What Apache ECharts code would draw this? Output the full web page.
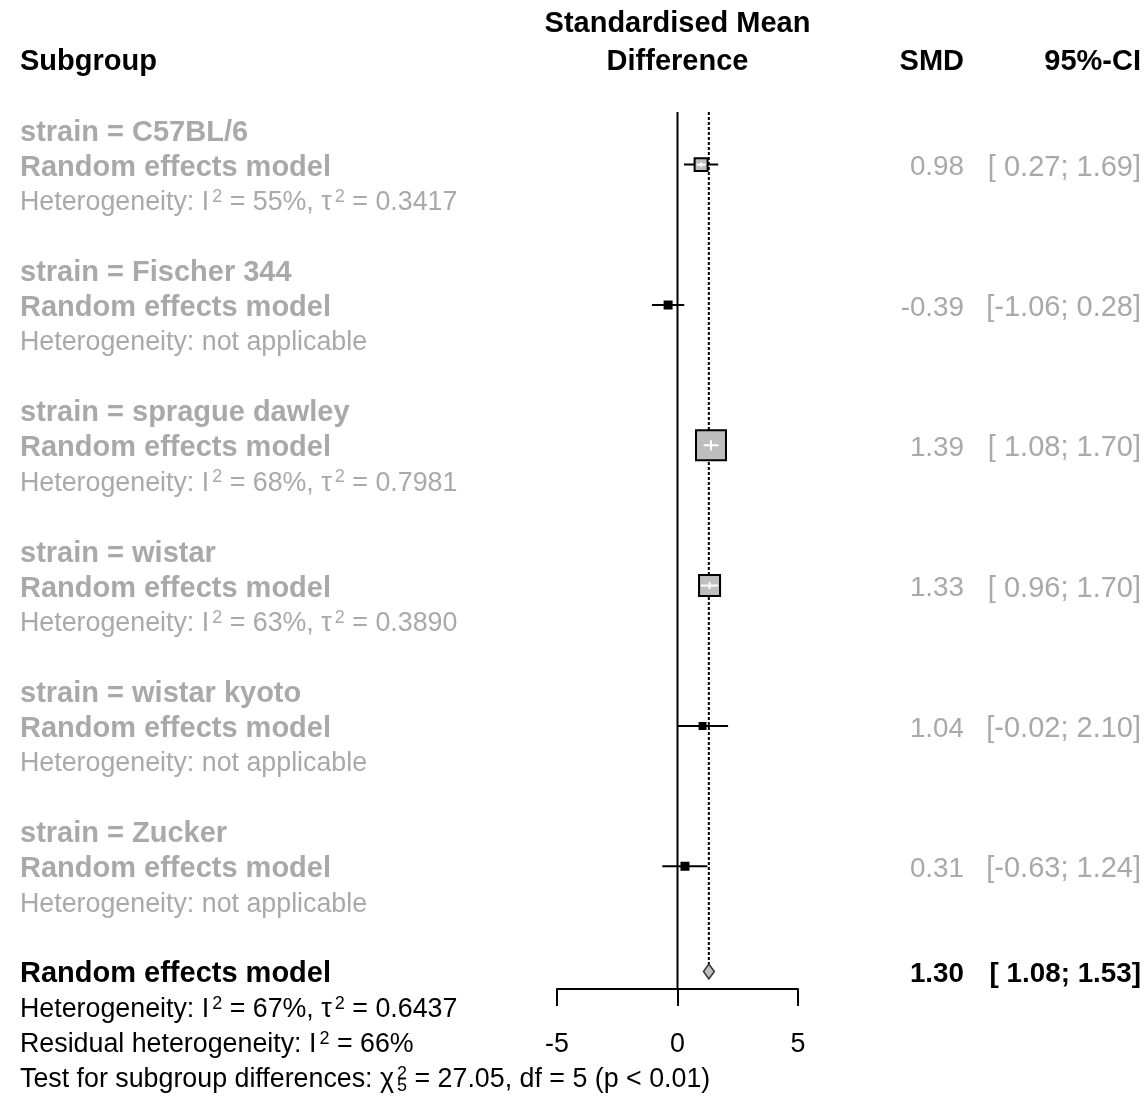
<!DOCTYPE html>
<html>
<head>
<meta charset="utf-8">
<script src="https://cdn.jsdelivr.net/npm/echarts@6/dist/echarts.min.js"></script>
<style>
html,body{margin:0;padding:0;background:#fff;}
#chart{width:1146px;height:1096px;}
</style>
</head>
<body>
<div id="chart"></div>
<script>
// ---------- data ----------
const subgroupNames  = ['C57BL/6', 'Fischer 344', 'sprague dawley', 'wistar', 'wistar kyoto', 'Zucker'];
const subgroupSMD    = [0.98, -0.39, 1.39, 1.33, 1.04, 0.31];
const subgroupLower  = [0.27, -1.06, 1.08, 0.96, -0.02, -0.63];
const subgroupUpper  = [1.69, 0.28, 1.70, 1.70, 2.10, 1.24];
const subgroupI2     = [55, null, 68, 63, null, null];
const subgroupTau2   = ['0.3417', null, '0.7981', '0.3890', null, null];
// relative weights (estimated from square sizes)
const subgroupWeight = [10.3, 3.0, 55.0, 27.0, 2.2, 3.0];

const overallSMD   = 1.30;
const overallLower = 1.08;
const overallUpper = 1.53;
const overallI2    = 67;
const overallTau2  = '0.6437';
const residualI2   = 66;
const chi2Value    = '27.05';
const chi2Df       = 5;
const pValueText   = '< 0.01';

const xTicks = [-5, 0, 5];

// ---------- styling / layout constants ----------
const FONT = "'Liberation Sans', Arial, Helvetica, sans-serif";
const GREY = '#A9A9A9';
const BLACK = '#000000';
const BOLD_SIZE = 29;
const REG_SIZE = 26.8;
const NUM_SIZE = 27.8;
const CI_SIZE = 29;
const SUP_SIZE = 18;
const MAX_BOX = 30;
const LEFT_X = 20;
const SMD_X = 964;
const CI_X = 1141;
const TEXT_DY = 3;
const ROWS_PER_GROUP = 4;
const OVERALL_ROW = subgroupNames.length * ROWS_PER_GROUP - 1;

const maxWeight = Math.max(...subgroupWeight);
const f2 = v => v.toFixed(2);
const ciText = (lo, hi) => '[' + f2(lo).padStart(5, ' ') + '; ' + f2(hi).padStart(4, ' ') + ']';

function richStyles(color, size) {
  return {
    a: {fill: color, fontSize: size, fontFamily: FONT, lineHeight: 30},
    s: {fill: color, fontSize: SUP_SIZE, fontFamily: FONT, lineHeight: 18, verticalAlign: 'top', padding: [0, 0, 0, 3]},
    b: {fill: color, fontSize: SUP_SIZE, fontFamily: FONT, lineHeight: 16, verticalAlign: 'bottom', padding: [0, 0, 0, 3]},
    t: {fill: 'rgba(0,0,0,0)', fontSize: size, fontFamily: FONT, lineHeight: 30}
  };
}
function hetText(i2, tau2) {
  return '{a|Heterogeneity: I}{s|2}{a| = ' + i2 + '%, τ}{s|2}{a| = ' + tau2 + '}';
}

// ---------- text rows ----------
const textRows = [];
function addText(row, x, align, text, opts) {
  textRows.push(Object.assign({row, x, align, text}, opts));
}
// headers
addText(-4.1, 'axis', 'center', 'Standardised Mean', {bold: true, color: BLACK, size: BOLD_SIZE});
addText(-3, 'axis', 'center', 'Difference', {bold: true, color: BLACK, size: BOLD_SIZE});
addText(-3, LEFT_X, 'left', 'Subgroup', {bold: true, color: BLACK, size: BOLD_SIZE});
addText(-3, SMD_X, 'right', 'SMD', {bold: true, color: BLACK, size: BOLD_SIZE});
addText(-3, CI_X, 'right', '95%-CI', {bold: true, color: BLACK, size: BOLD_SIZE});

subgroupNames.forEach((name, i) => {
  const r = i * ROWS_PER_GROUP;
  addText(r - 1, LEFT_X, 'left', 'strain = ' + name, {bold: true, color: GREY, size: BOLD_SIZE});
  addText(r, LEFT_X, 'left', 'Random effects model', {bold: true, color: GREY, size: BOLD_SIZE});
  if (subgroupI2[i] !== null) {
    addText(r + 1, LEFT_X, 'left', hetText(subgroupI2[i], subgroupTau2[i]), {rich: true, color: GREY, size: REG_SIZE});
  } else {
    addText(r + 1, LEFT_X, 'left', 'Heterogeneity: not applicable', {color: GREY, size: REG_SIZE});
  }
  addText(r, SMD_X, 'right', f2(subgroupSMD[i]), {color: GREY, size: NUM_SIZE});
  addText(r, CI_X, 'right', ciText(subgroupLower[i], subgroupUpper[i]), {color: GREY, size: CI_SIZE});
});

addText(OVERALL_ROW, LEFT_X, 'left', 'Random effects model', {bold: true, color: BLACK, size: BOLD_SIZE});
addText(OVERALL_ROW, SMD_X, 'right', f2(overallSMD), {bold: true, color: BLACK, size: NUM_SIZE});
addText(OVERALL_ROW, CI_X, 'right', ciText(overallLower, overallUpper), {bold: true, color: BLACK, size: NUM_SIZE});
addText(OVERALL_ROW + 1, LEFT_X, 'left', hetText(overallI2, overallTau2), {rich: true, color: BLACK, size: REG_SIZE});
addText(OVERALL_ROW + 2, LEFT_X, 'left', '{a|Residual heterogeneity: I}{s|2}{a| = ' + residualI2 + '%}', {rich: true, color: BLACK, size: REG_SIZE});
addText(OVERALL_ROW + 3, LEFT_X, 'left', '{a|Test for subgroup differences: χ}{s|2}{a| = ' + chi2Value + ', df = ' + chi2Df + ' (p ' + pValueText + ')}', {rich: true, color: BLACK, size: REG_SIZE});
addText(OVERALL_ROW + 3, LEFT_X, 'left', '{t|Test for subgroup differences: χ}{b|' + chi2Df + '}', {rich: true, color: BLACK, size: REG_SIZE});

// ---------- chart ----------
const chart = echarts.init(document.getElementById('chart'), null, {renderer: 'canvas'});

const forestData = subgroupSMD.map((v, i) => [v, subgroupLower[i], subgroupUpper[i], i * ROWS_PER_GROUP, subgroupWeight[i]]);

const option = {
  backgroundColor: '#ffffff',
  animation: false,
  grid: {left: 557, top: 112, width: 241, height: 877, containLabel: false},
  xAxis: {
    type: 'value', min: xTicks[0], max: xTicks[xTicks.length - 1], interval: xTicks[1] - xTicks[0],
    position: 'bottom',
    axisLine: {show: true, onZero: false, lineStyle: {color: BLACK, width: 2}},
    axisTick: {show: true, inside: false, length: 17, lineStyle: {color: BLACK, width: 2}},
    axisLabel: {show: true, color: BLACK, fontSize: REG_SIZE, fontFamily: FONT, margin: 42,
      formatter: v => String(v)},
    splitLine: {show: false}
  },
  yAxis: {type: 'value', min: -1.5, max: OVERALL_ROW + 0.5, inverse: true, show: false},
  series: [
    {
      // reference lines + overall diamond
      type: 'custom', clip: false, silent: true,
      data: [[overallSMD, overallLower, overallUpper, OVERALL_ROW]],
      encode: {x: [0, 1, 2], y: 3},
      renderItem: function (params, api) {
        const est = api.value(0), lo = api.value(1), hi = api.value(2), row = api.value(3);
        const top0 = api.coord([0, -1.5]);
        const bot0 = api.coord([0, OVERALL_ROW + 0.5]);
        const pE = api.coord([est, row]);
        const pL = api.coord([lo, row]);
        const pH = api.coord([hi, row]);
        const topE = api.coord([est, -1.5]);
        const h = 7.5;
        return {
          type: 'group',
          children: [
            {type: 'line', shape: {x1: top0[0], y1: top0[1], x2: bot0[0], y2: bot0[1]},
              style: {stroke: BLACK, lineWidth: 2}},
            {type: 'line', shape: {x1: topE[0], y1: topE[1], x2: pE[0], y2: pE[1] - h},
              style: {stroke: BLACK, lineWidth: 2, lineDash: [3, 2]}},
            {type: 'polygon', shape: {points: [[pL[0], pL[1]], [pE[0], pE[1] - h], [pH[0], pH[1]], [pE[0], pE[1] + h]]},
              style: {fill: '#BEBEBE', stroke: '#333333', lineWidth: 1.5}}
          ]
        };
      }
    },
    {
      // subgroup squares + CIs
      type: 'custom', clip: false, silent: true,
      data: forestData,
      encode: {x: [0, 1, 2], y: 3},
      renderItem: function (params, api) {
        const est = api.value(0), lo = api.value(1), hi = api.value(2), row = api.value(3), w = api.value(4);
        const pE = api.coord([est, row]);
        const pL = api.coord([lo, row]);
        const pH = api.coord([hi, row]);
        const s = MAX_BOX * Math.sqrt(w / maxWeight);
        const small = s < 10;
        const children = [
          {type: 'line', shape: {x1: pL[0], y1: pL[1], x2: pH[0], y2: pH[1]}, style: {stroke: BLACK, lineWidth: 2}},
          {type: 'rect', shape: {x: pE[0] - s / 2, y: pE[1] - s / 2, width: s, height: s},
            style: {fill: small ? BLACK : '#BEBEBE', stroke: BLACK, lineWidth: 2}}
        ];
        if (s >= 12) {
          const xa = Math.max(pL[0], pE[0] - s / 2 + 2);
          const xb = Math.min(pH[0], pE[0] + s / 2 - 2);
          children.push({type: 'line', shape: {x1: xa, y1: pE[1], x2: xb, y2: pE[1]}, style: {stroke: '#ffffff', lineWidth: 2}});
          children.push({type: 'line', shape: {x1: pE[0], y1: pE[1] - s * 0.17, x2: pE[0], y2: pE[1] + s * 0.17}, style: {stroke: '#ffffff', lineWidth: 2}});
        }
        return {type: 'group', children};
      }
    },
    {
      // text columns
      type: 'custom', clip: false, silent: true,
      data: textRows.map(t => [0, t.row]),
      encode: {x: 0, y: 1},
      renderItem: function (params, api) {
        const t = textRows[params.dataIndex];
        const p = api.coord([0, t.row]);
        const x = t.x === 'axis' ? p[0] : t.x;
        const style = {
          text: t.text,
          fill: t.color,
          fontSize: t.size,
          fontFamily: FONT,
          fontWeight: t.bold ? 'bold' : 'normal',
          align: t.align,
          verticalAlign: 'middle'
        };
        if (t.rich) style.rich = richStyles(t.color, t.size);
        return {type: 'text', x: x, y: p[1] + TEXT_DY, style: style};
      }
    }
  ]
};
chart.setOption(option);
</script>
</body>
</html>
